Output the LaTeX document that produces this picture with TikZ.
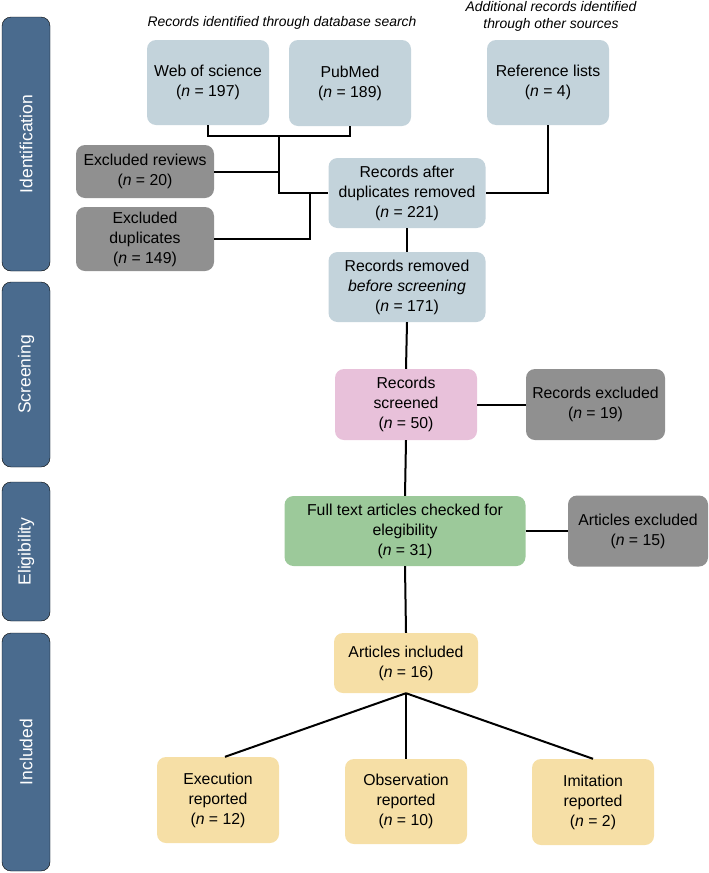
\documentclass[tikz,border=0pt]{standalone}
\usepackage{fontspec}
\setmainfont{Liberation Sans}
\definecolor{bgray}{HTML}{C3D3DB}
\definecolor{dgray}{HTML}{909090}
\definecolor{pinkc}{HTML}{E8C1DA}
\definecolor{greenc}{HTML}{9CC99A}
\definecolor{yellowc}{HTML}{F6DFA6}
\definecolor{barc}{HTML}{4A6B8E}
\newcommand{\nn}{\textit{n}}
\begin{document}
\begin{tikzpicture}[x=1pt,y=-1pt,
  box/.style={rounded corners=9pt, align=center, inner sep=0pt, draw=none,
    font=\fontsize{15.8}{20}\selectfont},
  conn/.style={line width=2pt, black},
  bar/.style={fill=barc, rounded corners=9pt},
  bartext/.style={rotate=90, text=white, font=\fontsize{17.5}{20}\selectfont},
  hdr/.style={font=\fontsize{13.9}{17}\selectfont\itshape, align=center}]
\useasboundingbox (0,0) rectangle (709,873);
% side bars
\draw[bar] (2,17) rectangle (50,271);
\draw[bar] (2,282) rectangle (50,467);
\draw[bar] (2,482) rectangle (50,621);
\draw[bar] (2,633) rectangle (50,871);
\node[bartext] (tid) at (26,144) {Identification};
\node[bartext] (tsc) at (26,374.5) {Screening};
\node[bartext] (tel) at (26,551.5) {Eligibility};
\node[bartext] (tin) at (26,752) {Included};
% headers
\node[hdr] (h1) at (282,23) {Records identified through database search};
\node[hdr] (h2) at (551,16) {Additional records identified\\through other sources};
% nodes
\node[box, fill=bgray, minimum width=122, minimum height=85] (wos) at (208,82.5) {Web of science\\(\nn{} = 197)};
\node[box, fill=bgray, minimum width=122, minimum height=86] (pub) at (350,83) {PubMed\\(\nn{} = 189)};
\node[box, fill=bgray, minimum width=122, minimum height=85] (ref) at (548,82.5) {Reference lists\\(\nn{} = 4)};
\node[box, fill=dgray, minimum width=138, minimum height=53] (exrev) at (145,171.5) {Excluded reviews\\(\nn{} = 20)};
\node[box, fill=dgray, minimum width=138, minimum height=64] (exdup) at (145,239) {Excluded\\duplicates\\(\nn{} = 149)};
\node[box, fill=bgray, minimum width=157, minimum height=70] (after) at (407,193) {Records after\\duplicates removed\\(\nn{} = 221)};
\node[box, fill=bgray, minimum width=157, minimum height=70] (removed) at (407,287) {Records removed\\\textit{before screening}\\(\nn{} = 171)};
\node[box, fill=pinkc, minimum width=142, minimum height=71] (screened) at (406,404.5) {Records\\screened\\(\nn{} = 50)};
\node[box, fill=dgray, minimum width=139, minimum height=71] (recex) at (595.5,404.5) {Records excluded\\(\nn{} = 19)};
\node[box, fill=greenc, minimum width=241, minimum height=70] (full) at (405,531) {Full text articles checked for\\elegibility\\(\nn{} = 31)};
\node[box, fill=dgray, minimum width=140, minimum height=71] (artex) at (638,531) {Articles excluded\\(\nn{} = 15)};
\node[box, fill=yellowc, minimum width=144, minimum height=60] (inc) at (406,663) {Articles included\\(\nn{} = 16)};
\node[box, fill=yellowc, minimum width=122, minimum height=86] (exe) at (218,800) {Execution\\reported\\(\nn{} = 12)};
\node[box, fill=yellowc, minimum width=122, minimum height=85] (obs) at (406,801.5) {Observation\\reported\\(\nn{} = 10)};
\node[box, fill=yellowc, minimum width=122, minimum height=86] (imi) at (593,802) {Imitation\\reported\\(\nn{} = 2)};
% junctions
\coordinate (j1) at (279,136);
\coordinate (j3) at (310,193);
% connectors
\draw[conn] (wos.south) |- (j1) -| (pub.south);
\draw[conn] (j1) |- (after.west);
\draw[conn] (exrev.east) -- (exrev.east -| j1);
\draw[conn] (exdup.east) -| (j3);
\draw[conn] (ref.south) |- (after.east);
\draw[conn] (after.south) -- (removed.north);
\draw[conn] (removed.south) -- (screened.north);
\draw[conn] (screened.east) -- (recex.west);
\draw[conn] (screened.south) -- (full.north);
\draw[conn] (full.east) -- (artex.west);
\draw[conn] (full.south) -- (inc.north);
\draw[conn] (inc.south) -- ([xshift=7pt]exe.north);
\draw[conn] (inc.south) -- (obs.north);
\draw[conn] (inc.south) -- (imi.north);
\end{tikzpicture}
\end{document}
